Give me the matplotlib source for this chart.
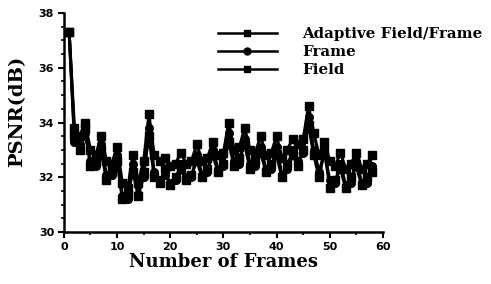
import matplotlib
matplotlib.use("Agg")
import matplotlib.pyplot as plt
from matplotlib.ticker import MultipleLocator

frames = list(range(1, 59))
adaptive = [37.3, 33.8, 33.5, 34.0, 33.0, 32.8, 33.5, 32.6, 32.5, 33.1,
            31.8, 31.6, 32.8, 31.8, 32.6, 34.3, 32.8, 32.6, 32.7, 32.4,
            32.5, 32.9, 32.5, 32.6, 33.2, 32.6, 32.7, 33.3, 32.8, 32.9,
            34.0, 33.0, 33.1, 33.8, 33.0, 32.9, 33.5, 32.8, 32.9, 33.5,
            32.7, 33.0, 33.4, 33.2, 33.4, 34.6, 33.6, 32.8, 33.3, 32.6,
            32.4, 32.9, 32.3, 32.5, 32.9, 32.3, 32.5, 32.8]
frame = [37.3, 33.3, 33.2, 33.6, 32.6, 32.4, 33.2, 32.1, 32.1, 32.8,
         31.3, 31.2, 32.5, 31.4, 32.0, 33.8, 32.2, 31.9, 32.1, 31.8,
         31.9, 32.5, 32.0, 32.0, 32.8, 32.1, 32.2, 33.0, 32.3, 32.4,
         33.6, 32.6, 32.5, 33.4, 32.5, 32.4, 33.1, 32.3, 32.3, 33.1,
         32.1, 32.3, 33.0, 32.6, 32.9, 34.2, 33.0, 32.2, 32.9, 31.9,
         31.8, 32.5, 31.7, 31.8, 32.6, 31.8, 31.8, 32.4]
field = [37.3, 33.5, 33.0, 33.8, 32.4, 32.6, 33.0, 31.9, 32.3, 32.6,
         31.2, 31.4, 32.2, 31.3, 32.2, 33.5, 32.0, 31.8, 32.3, 31.7,
         32.0, 32.3, 31.9, 32.1, 32.6, 32.0, 32.3, 32.8, 32.2, 32.5,
         33.3, 32.4, 32.7, 33.2, 32.3, 32.6, 32.9, 32.2, 32.5, 32.8,
         32.0, 32.5, 32.8, 32.4, 33.0, 33.9, 32.8, 32.0, 33.0, 31.6,
         31.9, 32.3, 31.6, 32.0, 32.4, 31.7, 32.0, 32.2]
labels = ["Adaptive Field/Frame", "Frame", "Field"]

serif = ["DejaVu Serif"]
sans = ["DejaVu Sans"]

fig = plt.figure(figsize=(4.91, 2.84), dpi=100)
ax = fig.add_axes([0.130, 0.183, 0.650, 0.771])

ax.plot(frames, adaptive, color="black", lw=2.2, marker="s", ms=6, label=labels[0])
ax.plot(frames, frame, color="black", lw=2.2, marker="o", ms=5.5, label=labels[1])
ax.plot(frames, field, color="black", lw=2.2, marker="s", ms=6, label=labels[2])

ax.set_xlim(0, 60)
ax.set_ylim(30, 38)
ax.xaxis.set_major_locator(MultipleLocator(10))
ax.xaxis.set_minor_locator(MultipleLocator(5))
ax.yaxis.set_major_locator(MultipleLocator(2))
ax.yaxis.set_minor_locator(MultipleLocator(0.5))
for s in ["top", "right"]:
    ax.spines[s].set_visible(False)
for s in ["left", "bottom"]:
    ax.spines[s].set_linewidth(1.8)
ax.tick_params(which="major", length=4, width=1.5, direction="out", pad=3)
ax.tick_params(which="minor", length=2.5, width=1.2, direction="out")
for lab in ax.get_xticklabels() + ax.get_yticklabels():
    lab.set_fontfamily(sans)
    lab.set_fontweight("bold")
    lab.set_fontsize(8)

ax.set_xlabel("Number of Frames", fontfamily=serif, fontweight="bold", fontsize=13, labelpad=1)
ax.set_ylabel("PSNR(dB)", fontfamily=serif, fontweight="bold", fontsize=14)
ax.yaxis.set_label_coords(-0.118, 0.55)

leg = ax.legend(loc="center left", bbox_to_anchor=(218 / 491, 1 - 52 / 284),
                bbox_transform=fig.transFigure, frameon=False,
                handlelength=3.9, handletextpad=1.7, labelspacing=0.25,
                prop={"family": serif, "weight": "bold", "size": 10.8},
                borderaxespad=0, borderpad=0)
for h in leg.legend_handles:
    h.set_markersize(5)
    h.set_linewidth(1.8)

fig.savefig("out.png", dpi=100)
